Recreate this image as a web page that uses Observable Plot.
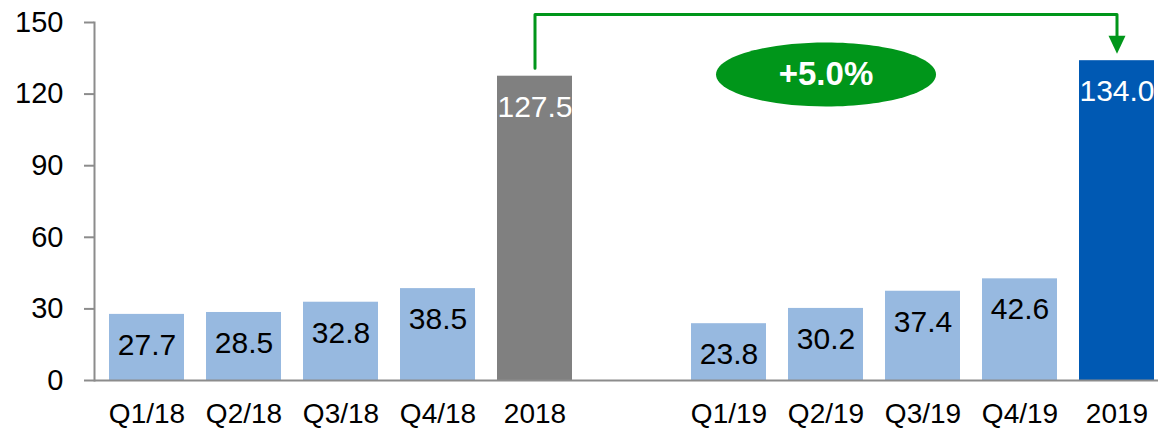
<!DOCTYPE html>
<html>
<head>
<meta charset="utf-8">
<script src="https://cdn.jsdelivr.net/npm/d3@7"></script>
<script src="https://cdn.jsdelivr.net/npm/@observablehq/plot@0.6"></script>
<style>
  html, body { margin: 0; padding: 0; background: #fff; overflow: hidden; }
  #chart svg { display: block; }
</style>
</head>
<body>
<div id="chart"></div>
<script>
// ---- Data ----
const categories = ["Q1/18", "Q2/18", "Q3/18", "Q4/18", "2018", "Q1/19", "Q2/19", "Q3/19", "Q4/19", "2019"];
const values = [27.7, 28.5, 32.8, 38.5, 127.5, 23.8, 30.2, 37.4, 42.6, 134.0];
const kinds = ["quarter", "quarter", "quarter", "quarter", "total2018", "quarter", "quarter", "quarter", "quarter", "total2019"];
const yTicks = [0, 30, 60, 90, 120, 150];
const gapSlot = "gap";
const growthLabel = "+5.0%";
const growthAnchor = "Q2/19";

// ---- Build ----
const rows = categories.map((c, i) => ({cat: c, value: values[i], kind: kinds[i]}));
const xDomain = [...categories.slice(0, 5), gapSlot, ...categories.slice(5)];
const quarterRows = rows.filter(d => d.kind === "quarter");
const totalRows = rows.filter(d => d.kind !== "quarter");
const t18 = rows.find(d => d.cat === "2018");
const t19 = rows.find(d => d.cat === "2019");

const pxPerUnit = (380 - 22) / 150;
const arrowTop = 150 + 8 / pxPerUnit;
const connector = [
  {cat: t18.cat, value: t18.value + 8 / pxPerUnit},
  {cat: t18.cat, value: arrowTop},
  {cat: t19.cat, value: arrowTop},
  {cat: t19.cat, value: t19.value + 25 / pxPerUnit}
];
const arrowHead = [connector[3]];

const green = "#00961A";
const axisGray = "#8c8c8c";

const downTriangle = {
  draw(ctx) {
    const w = 8.5, h = 18;
    ctx.moveTo(-w, 0);
    ctx.lineTo(w, 0);
    ctx.lineTo(0, h);
    ctx.closePath();
  }
};
const ellipseSymbol = {
  draw(ctx) {
    const rx = 110, ry = 32, k = 0.5523;
    ctx.moveTo(rx, 0);
    ctx.bezierCurveTo(rx, k * ry, k * rx, ry, 0, ry);
    ctx.bezierCurveTo(-k * rx, ry, -rx, k * ry, -rx, 0);
    ctx.bezierCurveTo(-rx, -k * ry, -k * rx, -ry, 0, -ry);
    ctx.bezierCurveTo(k * rx, -ry, rx, -k * ry, rx, 0);
    ctx.closePath();
  }
};
const badge = [{cat: growthAnchor, value: (380 - 74) / pxPerUnit, label: growthLabel}];

const chart = Plot.plot({
  width: 1158,
  height: 430,
  marginLeft: 94,
  marginRight: 0,
  marginTop: 22,
  marginBottom: 50,
  style: {fontFamily: "'Liberation Sans', Arial, sans-serif", background: "#fff", color: "#000", overflow: "visible"},
  x: {domain: xDomain, range: [94, 1169], paddingInner: 0.227, paddingOuter: 0.1135, label: null},
  y: {domain: [0, 150], label: null},
  color: {domain: ["quarter", "total2018", "total2019"], range: ["#97B9E0", "#808080", "#0059B3"]},
  marks: [
    Plot.barY(rows, {x: "cat", y: "value", fill: "kind"}),
    Plot.ruleY([0], {stroke: axisGray, strokeWidth: 2}),
    Plot.frame({anchor: "left", stroke: axisGray, strokeWidth: 2}),
    Plot.axisY({ticks: yTicks, tickSize: 10, tickPadding: 21, fontSize: 29, stroke: axisGray, strokeWidth: 2, label: null}),
    Plot.axisX({ticks: categories, tickSize: 0, tickPadding: 23, fontSize: 28, label: null}),
    Plot.text(quarterRows, {x: "cat", y: "value", text: d => d.value.toFixed(1), dy: 31, fontSize: 30, fill: "#000"}),
    Plot.text(totalRows, {x: "cat", y: "value", text: d => d.value.toFixed(1), dy: 31, fontSize: 30, fill: "#fff"}),
    Plot.line(connector, {x: "cat", y: "value", stroke: green, strokeWidth: 3, curve: "linear"}),
    Plot.dot(arrowHead, {x: "cat", y: "value", symbol: downTriangle, fill: green, stroke: "none", r: 5}),
    Plot.dot(badge, {x: "cat", y: "value", symbol: ellipseSymbol, fill: green, stroke: "none", r: 5}),
    Plot.text(badge, {x: "cat", y: "value", text: "label", fill: "#fff", fontSize: 33, fontWeight: "bold"})
  ]
});
document.getElementById("chart").appendChild(chart);
</script>
</body>
</html>
